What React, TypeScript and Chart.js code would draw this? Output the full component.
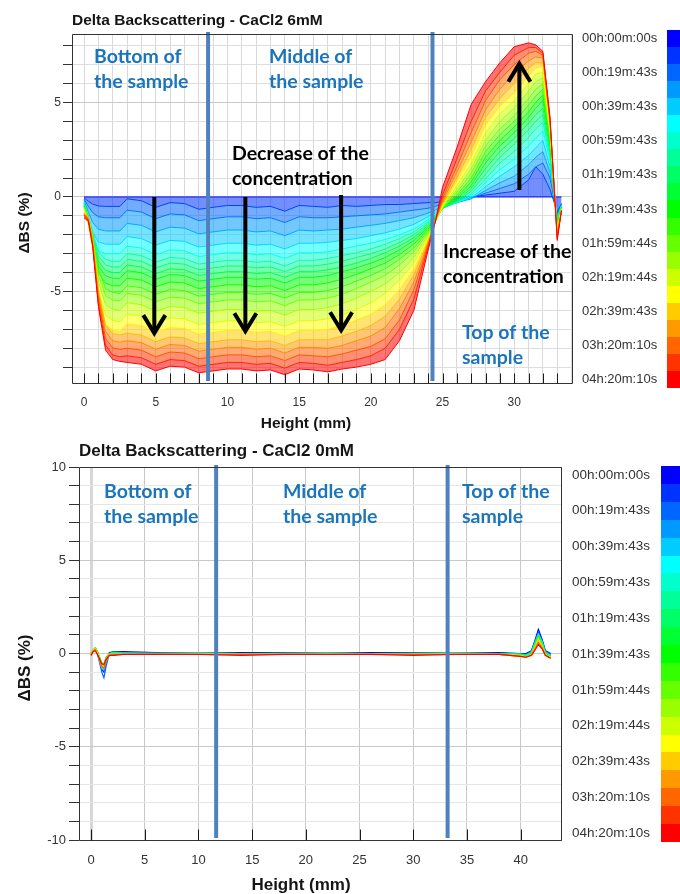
import React, { useEffect, useRef } from 'react';
import { Chart, registerables } from 'chart.js';

Chart.register(...registerables);

// ---------------- data ----------------
const TIME_LABELS = [
  '00h:00m:00s', '00h:19m:43s', '00h:39m:43s', '00h:59m:43s', '01h:19m:43s', '01h:39m:43s',
  '01h:59m:44s', '02h:19m:44s', '02h:39m:43s', '03h:20m:10s', '04h:20m:10s',
];

const SCALE_COLORS = [
  '#0000ff', '#0033ff', '#0066ff', '#0099ff', '#00ccff', '#00ffff', '#00ffcc', '#00ff99', '#00ff66', '#00ff33',
  '#00ff00', '#33ff00', '#66ff00', '#99ff00', '#ccff00', '#ffff00', '#ffcc00', '#ff9900', '#ff6600', '#ff3300', '#ff0000',
];

// CaCl2 6 mM : sample height (mm)
const HEIGHT_6MM = [0, 0.3, 0.6, 1, 1.5, 2, 2.5, 3, 4, 5, 6, 7, 8, 9, 10, 11, 12, 13, 14, 15, 16, 17, 18, 19, 20, 21, 22, 23, 24, 24.5, 25, 26, 27, 28, 29, 30, 31, 31.5, 32, 32.5, 33, 33.3];

// Delta BS (%) for successive scans, blue (first) -> red (last)
const BS6_00 = [0, 0, 0, 0, 0, 0, 0, 0, 0, 0, 0, 0, 0, 0, 0, 0, 0, 0, 0, 0, 0, 0, 0, 0, 0, 0, 0, 0, 0, 0, 0, 0, 0, 0, 0, 0, 0, 0, 0, 0, 0, 0];
const BS6_01 = [-0.05, -0.23, -0.38, -0.48, -0.5, -0.5, -0.5, -0.1, -0.2, -0.55, -0.3, -0.35, -0.65, -0.55, -0.45, -0.45, -0.55, -0.5, -0.75, -0.45, -0.5, -0.55, -0.45, -0.5, -0.45, -0.4, -0.4, -0.35, -0.3, -0.3, -0.25, -0.1, 0, 0.1, 0.2, 0.3, 0.9, 1.6, 1.2, 0.4, -0.8, -0.35];
const BS6_02 = [-0.11, -0.5, -0.83, -1.05, -1.1, -1.1, -1.1, -0.7, -0.8, -1.15, -0.9, -0.95, -1.25, -1.15, -1.05, -1.05, -1.15, -1.1, -1.35, -1.05, -1.1, -1.1, -1.05, -1, -0.95, -0.9, -0.8, -0.7, -0.6, -0.5, -0.35, -0.2, -0.05, 0.2, 0.45, 0.7, 1.2, 1.6, 1.8, 1, -0.9, -0.4];
const BS6_03 = [-0.18, -0.81, -1.35, -1.71, -1.8, -1.8, -1.8, -1.4, -1.5, -1.85, -1.6, -1.65, -1.95, -1.85, -1.75, -1.75, -1.85, -1.8, -2.05, -1.75, -1.8, -1.75, -1.7, -1.6, -1.5, -1.4, -1.25, -1.1, -0.85, -0.7, -0.45, -0.3, -0.1, 0.35, 0.75, 1.1, 1.7, 2.1, 2.4, 1.3, -1, -0.4];
const BS6_04 = [-0.25, -1.13, -1.88, -2.38, -2.5, -2.5, -2.5, -2.1, -2.2, -2.55, -2.3, -2.35, -2.65, -2.55, -2.45, -2.45, -2.55, -2.5, -2.75, -2.45, -2.45, -2.4, -2.3, -2.2, -2.05, -1.9, -1.7, -1.45, -1.05, -0.85, -0.5, -0.3, -0.05, 0.55, 1.1, 1.6, 2.2, 2.6, 3, 1.6, -1.1, -0.45];
const BS6_05 = [-0.3, -1.35, -2.25, -2.85, -3, -3, -3, -2.6, -2.7, -3.05, -2.8, -2.85, -3.15, -3.05, -2.95, -2.95, -3.05, -3, -3.25, -2.95, -2.95, -2.9, -2.75, -2.6, -2.45, -2.25, -2, -1.7, -1.2, -0.95, -0.55, -0.3, 0.05, 0.75, 1.45, 2, 2.7, 3.1, 3.5, 1.9, -1.2, -0.45];
const BS6_06 = [-0.34, -1.02, -1.87, -2.89, -3.3, -3.4, -3.4, -3, -3.1, -3.45, -3.2, -3.25, -3.55, -3.45, -3.35, -3.35, -3.45, -3.4, -3.65, -3.35, -3.35, -3.25, -3.1, -2.95, -2.75, -2.5, -2.2, -1.85, -1.3, -1, -0.6, -0.3, 0.15, 0.95, 1.8, 2.4, 3.15, 3.6, 3.95, 2.1, -1.3, -0.5];
const BS6_07 = [-0.37, -1.11, -2.04, -3.15, -3.59, -3.7, -3.7, -3.3, -3.4, -3.75, -3.5, -3.55, -3.85, -3.75, -3.65, -3.65, -3.75, -3.7, -3.95, -3.65, -3.65, -3.55, -3.4, -3.2, -3, -2.75, -2.4, -2, -1.4, -1.05, -0.6, -0.25, 0.3, 1.2, 2.1, 2.8, 3.55, 4, 4.35, 2.3, -1.35, -0.5];
const BS6_08 = [-0.4, -1.2, -2.2, -3.4, -3.88, -4, -4, -3.6, -3.7, -4.05, -3.8, -3.85, -4.15, -4.05, -3.95, -3.95, -4.05, -4, -4.25, -3.95, -3.95, -3.85, -3.7, -3.5, -3.25, -2.95, -2.6, -2.15, -1.5, -1.1, -0.6, -0.2, 0.45, 1.5, 2.4, 3.1, 3.9, 4.35, 4.7, 2.5, -1.4, -0.5];
const BS6_09 = [-0.43, -1.29, -2.37, -3.66, -4.17, -4.3, -4.3, -3.9, -4, -4.35, -4.1, -4.15, -4.45, -4.35, -4.25, -4.25, -4.35, -4.3, -4.55, -4.25, -4.25, -4.15, -3.95, -3.75, -3.5, -3.2, -2.8, -2.3, -1.6, -1.15, -0.6, -0.1, 0.6, 1.8, 2.7, 3.4, 4.2, 4.7, 5.1, 2.7, -1.45, -0.55];
const BS6_10 = [-0.47, -1.41, -2.59, -4, -4.56, -4.7, -4.7, -4.3, -4.4, -4.75, -4.5, -4.55, -4.85, -4.75, -4.65, -4.65, -4.75, -4.7, -4.95, -4.65, -4.65, -4.55, -4.35, -4.1, -3.8, -3.5, -3.05, -2.5, -1.7, -1.2, -0.6, 0, 0.8, 2.1, 3, 3.7, 4.5, 5, 5.4, 2.9, -1.5, -0.55];
const BS6_11 = [-0.51, -1.02, -1.94, -3.83, -4.85, -5.05, -5.1, -4.7, -4.8, -5.15, -4.9, -4.95, -5.25, -5.15, -5.05, -5.05, -5.15, -5.1, -5.35, -5.05, -5.05, -4.95, -4.75, -4.45, -4.15, -3.8, -3.3, -2.7, -1.8, -1.2, -0.6, 0.1, 1, 2.4, 3.3, 4, 4.85, 5.35, 5.7, 3, -1.6, -0.6];
const BS6_12 = [-0.55, -1.1, -2.09, -4.13, -5.23, -5.45, -5.5, -5.1, -5.2, -5.55, -5.3, -5.35, -5.65, -5.55, -5.45, -5.45, -5.55, -5.5, -5.75, -5.45, -5.45, -5.35, -5.15, -4.85, -4.5, -4.15, -3.6, -2.9, -1.9, -1.25, -0.6, 0.25, 1.25, 2.7, 3.6, 4.3, 5.2, 5.7, 6, 3.2, -1.65, -0.6];
const BS6_13 = [-0.6, -1.2, -2.28, -4.5, -5.7, -5.94, -6, -5.6, -5.7, -6.05, -5.8, -5.85, -6.15, -6.05, -5.95, -5.95, -6.05, -6, -6.25, -5.95, -5.95, -5.85, -5.65, -5.35, -5, -4.6, -4, -3.2, -2, -1.25, -0.55, 0.4, 1.5, 3, 4, 4.7, 5.6, 6.1, 6.3, 3.4, -1.7, -0.6];
const BS6_14 = [-0.66, -1.32, -2.51, -4.95, -6.27, -6.53, -6.6, -6.2, -6.3, -6.65, -6.4, -6.45, -6.75, -6.65, -6.55, -6.55, -6.65, -6.6, -6.85, -6.55, -6.55, -6.45, -6.25, -5.95, -5.6, -5.1, -4.4, -3.5, -2.1, -1.3, -0.5, 0.6, 1.8, 3.4, 4.4, 5.1, 6, 6.5, 6.6, 3.5, -1.8, -0.65];
const BS6_15 = [-0.71, -1.42, -2.7, -5.33, -6.75, -7.03, -7.1, -6.7, -6.8, -7.15, -6.9, -6.95, -7.25, -7.15, -7.05, -7.05, -7.15, -7.1, -7.35, -7.05, -7.05, -7, -6.8, -6.5, -6.2, -5.7, -4.9, -3.8, -2.2, -1.3, -0.45, 0.8, 2.1, 3.8, 4.8, 5.5, 6.4, 6.8, 6.9, 3.7, -1.85, -0.65];
const BS6_16 = [-0.84, -1.06, -2.2, -4.86, -6.76, -7.22, -7.3, -7.2, -7.3, -7.65, -7.4, -7.45, -7.75, -7.65, -7.55, -7.55, -7.65, -7.6, -7.85, -7.55, -7.55, -7.55, -7.35, -7.1, -6.8, -6.3, -5.4, -4.1, -2.3, -1.3, -0.35, 1, 2.5, 4.2, 5.2, 6, 6.8, 7.1, 7.1, 3.8, -1.9, -0.7];
const BS6_17 = [-0.88, -1.12, -2.32, -5.12, -7.12, -7.6, -7.68, -7.6, -7.7, -8.05, -7.8, -7.85, -8.15, -8.05, -7.95, -7.95, -8.05, -8, -8.25, -7.95, -7.95, -8, -7.85, -7.6, -7.35, -6.9, -5.9, -4.5, -2.4, -1.3, -0.25, 1.3, 2.9, 4.6, 5.7, 6.5, 7.2, 7.4, 7.35, 3.9, -2, -0.7];
const BS6_18 = [-0.92, -1.18, -2.44, -5.38, -7.48, -7.98, -8.06, -8, -8.1, -8.45, -8.2, -8.25, -8.55, -8.45, -8.35, -8.35, -8.45, -8.4, -8.65, -8.35, -8.4, -8.45, -8.3, -8.1, -7.9, -7.5, -6.5, -4.9, -2.5, -1.3, -0.1, 1.6, 3.4, 5.1, 6.2, 7, 7.6, 7.7, 7.5, 4, -2.1, -0.7];
const BS6_19 = [-0.97, -1.23, -2.55, -5.63, -7.83, -8.36, -8.45, -8.4, -8.5, -8.85, -8.6, -8.65, -8.95, -8.85, -8.75, -8.75, -8.85, -8.8, -9.05, -8.75, -8.8, -8.9, -8.75, -8.6, -8.4, -8, -7, -5.4, -2.6, -1.3, 0.1, 2, 4, 5.6, 6.6, 7.5, 7.9, 7.9, 7.6, 4.1, -2.2, -0.7];
const BS6_20 = [-1.1, -1.3, -2.6, -5.8, -8.1, -8.6, -8.7, -8.75, -8.85, -9.2, -8.95, -9, -9.3, -9.2, -9.1, -9.1, -9.2, -9.15, -9.4, -9.1, -9.15, -9.25, -9.1, -9, -8.85, -8.6, -7.6, -6, -2.8, -1.3, 0.5, 2.6, 4.9, 6.1, 7.1, 7.95, 8.15, 8.05, 7.7, 4.2, -2.3, -0.7];

const CURVES_6MM = [
  BS6_00, BS6_01, BS6_02, BS6_03, BS6_04, BS6_05, BS6_06, BS6_07, BS6_08, BS6_09, BS6_10,
  BS6_11, BS6_12, BS6_13, BS6_14, BS6_15, BS6_16, BS6_17, BS6_18, BS6_19, BS6_20,
];

// CaCl2 0 mM : sample height (mm)
const HEIGHT_0MM = [0, 0.2, 0.4, 0.6, 0.8, 1, 1.2, 1.4, 1.7, 2.2, 3, 6, 10, 14, 18, 22, 26, 30, 34, 38, 40, 40.5, 41, 41.3, 41.65, 42, 42.3, 42.8];

const BS0_00 = [0, 0.15, 0.25, 0.05, -0.4, -0.85, -1, -0.5, 0.05, 0.1, 0.1, 0.05, 0.05, 0.05, 0.05, 0.05, 0.05, 0.05, 0.05, 0.05, 0, 0, 0.15, 0.65, 1.29, 0.75, 0.15, 0];
const BS0_02 = [0, 0.15, 0.25, 0, -0.5, -1, -1.3, -0.7, 0, 0.1, 0.05, 0.05, 0.05, 0, 0.05, 0.05, 0, 0.05, 0.05, 0, 0, -0.05, 0.1, 0.6, 1.15, 0.7, 0.1, -0.05];
const BS0_04 = [0, 0.15, 0.25, 0, -0.4, -0.8, -0.9, -0.45, 0, 0.05, 0.05, 0, 0.05, 0, 0, 0.05, 0, 0, 0.05, 0, -0.05, -0.1, 0.05, 0.55, 1.05, 0.65, 0.05, -0.1];
const BS0_06 = [0, 0.2, 0.3, 0.05, -0.3, -0.6, -0.7, -0.3, 0, 0.05, 0, 0, 0, 0, 0, 0, 0, 0, 0, 0, -0.05, -0.1, 0.05, 0.5, 1, 0.6, 0.05, -0.1];
const BS0_08 = [0, 0.2, 0.3, 0.1, -0.25, -0.55, -0.6, -0.25, 0, 0, 0, 0, 0, 0, 0, 0, 0, 0, 0, 0, -0.05, -0.1, 0, 0.45, 0.95, 0.55, 0, -0.15];
const BS0_10 = [0, 0.2, 0.3, 0.1, -0.2, -0.5, -0.55, -0.2, 0, 0, 0, 0, 0, 0, 0, 0, 0, 0, 0, 0, -0.1, -0.15, 0, 0.4, 0.9, 0.5, 0, -0.15];
const BS0_12 = [-0.05, 0.2, 0.3, 0.05, -0.25, -0.55, -0.6, -0.25, -0.05, -0.05, 0, -0.05, 0, -0.05, 0, -0.05, 0, -0.05, 0, -0.05, -0.1, -0.15, -0.05, 0.35, 0.85, 0.45, -0.05, -0.2];
const BS0_14 = [-0.05, 0.2, 0.25, 0, -0.3, -0.6, -0.65, -0.3, -0.05, -0.05, -0.05, -0.05, 0, -0.05, -0.05, 0, -0.05, -0.05, 0, -0.05, -0.1, -0.2, -0.05, 0.3, 0.8, 0.4, -0.05, -0.2];
const BS0_16 = [-0.05, 0.2, 0.25, 0, -0.35, -0.7, -0.75, -0.35, -0.05, -0.05, -0.05, -0.05, -0.05, -0.05, -0.05, -0.05, -0.05, -0.05, -0.05, -0.05, -0.15, -0.2, -0.1, 0.25, 0.7, 0.35, -0.1, -0.25];
const BS0_18 = [-0.1, 0.15, 0.2, -0.05, -0.35, -0.7, -0.8, -0.4, -0.1, -0.05, -0.05, -0.05, -0.05, -0.05, -0.05, -0.05, -0.05, -0.05, -0.05, -0.05, -0.15, -0.2, -0.1, 0.2, 0.6, 0.3, -0.1, -0.25];
const BS0_20 = [-0.1, 0.1, 0.15, -0.05, -0.3, -0.55, -0.6, -0.3, -0.1, -0.1, -0.05, -0.05, -0.05, -0.1, -0.05, -0.05, -0.05, -0.1, -0.05, -0.05, -0.15, -0.2, -0.1, 0.15, 0.48, 0.25, -0.1, -0.25];

const CURVES_0MM = [BS0_00, BS0_02, BS0_04, BS0_06, BS0_08, BS0_10, BS0_12, BS0_14, BS0_16, BS0_18, BS0_20];
const COLOR_INDEX_0MM = [0, 2, 4, 6, 8, 10, 12, 14, 16, 18, 20];

// zone dividers (mm) and arrows (mm, %)
const DIVIDERS_6MM = [8.65, 24.3];
const DIVIDERS_0MM = [11.65, 33.2];
const ARROWS_6MM = [
  { x: 4.9, from: 0, to: -7.2 },
  { x: 11.25, from: 0, to: -7.1 },
  { x: 17.93, from: 0.1, to: -7.05 },
  { x: 30.36, from: 0.37, to: 7.05 },
];

// ---------------- helpers ----------------
function rgba(hex: string, a: number) {
  const n = parseInt(hex.slice(1), 16);
  return `rgba(${(n >> 16) & 255},${(n >> 8) & 255},${n & 255},${a})`;
}

const DIVIDER_COLOR = '#4f81bd';
const NOTE_BLUE = '#1b75bc';
const AXIS_DARK = '#333333';

type Note = { lines: string[]; x: number; y: number; color: string; size: number };
type Decor = {
  title: string; titleX: number; titleY: number; titleSize: number;
  xTitleX: number; xTitleY: number; yTitleX: number; yTitleY: number; axisTitleSize: number;
  inner: { from: number; to: number; step: number; len: number };
  dividers: number[];
  arrows: { x: number; from: number; to: number }[];
  notes: Note[];
  bar: { x: number; w: number; top: number; bottom: number };
  legendX: number; legendSize: number;
};

function makeDecor(d: Decor) {
  return {
    id: 'decor',
    afterDatasetsDraw(chart: any) {
      const { ctx, chartArea: a, scales } = chart;
      const xs = scales.x;
      const ys = scales.y;
      ctx.save();
      ctx.strokeStyle = DIVIDER_COLOR;
      ctx.lineWidth = 4;
      for (const v of d.dividers) {
        const px = xs.getPixelForValue(v);
        ctx.beginPath();
        ctx.moveTo(px, a.top - 2);
        ctx.lineTo(px, a.bottom - 2);
        ctx.stroke();
      }
      ctx.strokeStyle = '#000';
      ctx.lineWidth = 4;
      ctx.lineJoin = 'miter';
      ctx.lineCap = 'butt';
      for (const ar of d.arrows) {
        const px = xs.getPixelForValue(ar.x);
        const p0 = ys.getPixelForValue(ar.from);
        const p1 = ys.getPixelForValue(ar.to);
        const dir = p1 > p0 ? 1 : -1;
        ctx.beginPath();
        ctx.moveTo(px, p0);
        ctx.lineTo(px, p1 - dir * 2);
        ctx.stroke();
        ctx.beginPath();
        ctx.moveTo(px - 11, p1 - dir * 18);
        ctx.lineTo(px, p1);
        ctx.lineTo(px + 11, p1 - dir * 18);
        ctx.stroke();
      }
      ctx.textAlign = 'left';
      ctx.textBaseline = 'alphabetic';
      for (const n of d.notes) {
        ctx.font = `bold ${n.size}px Lato`;
        ctx.fillStyle = n.color;
        n.lines.forEach((t, i) => ctx.fillText(t, n.x, n.y + i * 25));
      }
      ctx.restore();
    },
    afterDraw(chart: any) {
      const { ctx, chartArea: a, scales } = chart;
      const xs = scales.x;
      ctx.save();
      // frame
      ctx.strokeStyle = AXIS_DARK;
      ctx.lineWidth = 1;
      const L = Math.round(a.left) + 0.5;
      const R = Math.round(a.right) - 0.5;
      const T = Math.round(a.top) + 0.5;
      const B = Math.round(a.bottom) + 0.5;
      ctx.beginPath();
      ctx.moveTo(L, T); ctx.lineTo(R, T); ctx.lineTo(R, B); ctx.lineTo(L, B); ctx.closePath();
      ctx.stroke();
      // inner ticks on the x axis
      ctx.strokeStyle = '#1a1a1a';
      for (let v = d.inner.from; v <= d.inner.to + 1e-9; v += d.inner.step) {
        const px = Math.round(xs.getPixelForValue(v)) + 0.5;
        ctx.beginPath();
        ctx.moveTo(px, B);
        ctx.lineTo(px, B - d.inner.len);
        ctx.stroke();
      }
      // titles
      ctx.fillStyle = '#151515';
      ctx.font = `bold ${d.titleSize}px "Liberation Sans"`;
      ctx.textAlign = 'left';
      ctx.textBaseline = 'middle';
      ctx.fillText(d.title, d.titleX, d.titleY);
      ctx.font = `bold ${d.axisTitleSize}px "Liberation Sans"`;
      ctx.textAlign = 'center';
      ctx.fillText('Height (mm)', d.xTitleX, d.xTitleY);
      ctx.save();
      ctx.translate(d.yTitleX, d.yTitleY);
      ctx.rotate(-Math.PI / 2);
      ctx.fillText('\u0394BS (%)', 0, 0);
      ctx.restore();
      // colour bar + time legend
      const n = SCALE_COLORS.length;
      const seg = (d.bar.bottom - d.bar.top) / n;
      SCALE_COLORS.forEach((c, i) => {
        const y0 = Math.round(d.bar.top + i * seg);
        const y1 = Math.round(d.bar.top + (i + 1) * seg);
        ctx.fillStyle = c;
        ctx.fillRect(d.bar.x, y0, d.bar.w, y1 - y0);
      });
      ctx.fillStyle = AXIS_DARK;
      ctx.font = `${d.legendSize}px "Liberation Sans"`;
      ctx.textAlign = 'left';
      ctx.textBaseline = 'middle';
      TIME_LABELS.forEach((t, i) => {
        ctx.fillText(t, d.legendX, d.bar.top + (2 * i + 0.5) * seg);
      });
      ctx.restore();
    },
  };
}

function isFive(v: number) {
  return Math.abs(v % 5) < 1e-6;
}

function config6mM(): any {
  const datasets = CURVES_6MM.map((vals, k) => ({
    label: `scan ${k}`,
    data: vals.map((y, i) => ({ x: HEIGHT_6MM[i], y })),
    borderColor: SCALE_COLORS[k],
    backgroundColor: rgba(SCALE_COLORS[k], 0.55),
    borderWidth: 1,
    pointRadius: 0,
    tension: 0,
    fill: k === 0 ? false : '-1',
    order: CURVES_6MM.length - 1 - k,
  }));
  const decor: Decor = {
    title: 'Delta Backscattering - CaCl2 6mM', titleX: 72, titleY: 20.5, titleSize: 15.5,
    xTitleX: 306, xTitleY: 424, yTitleX: 25, yTitleY: 223, axisTitleSize: 15.5,
    inner: { from: 0, to: 33, step: 1, len: 10 },
    dividers: DIVIDERS_6MM,
    arrows: ARROWS_6MM,
    notes: [
      { lines: ['Bottom of', 'the sample'], x: 94, y: 63, color: NOTE_BLUE, size: 19.5 },
      { lines: ['Middle of', 'the sample'], x: 269, y: 63, color: NOTE_BLUE, size: 19.5 },
      { lines: ['Decrease of the', 'concentration'], x: 232, y: 160, color: '#000', size: 19.5 },
      { lines: ['Increase of the', 'concentration'], x: 443, y: 258, color: '#000', size: 19.5 },
      { lines: ['Top of the', 'sample'], x: 462, y: 339, color: NOTE_BLUE, size: 19.5 },
    ],
    bar: { x: 667, w: 13, top: 30, bottom: 388 },
    legendX: 582, legendSize: 13,
  };
  return {
    type: 'line',
    data: { datasets },
    options: {
      responsive: false,
      animation: false,
      events: [],
      layout: { padding: { left: 0, top: 34, right: 107, bottom: 0 } },
      plugins: { legend: { display: false }, tooltip: { enabled: false }, title: { display: false } },
      scales: {
        x: {
          type: 'linear', min: -0.84, max: 34.1,
          afterFit: (s: any) => { s.height = 57; },
          border: { display: false },
          grid: { color: '#d9d9d9', drawTicks: false, lineWidth: 1 },
          ticks: {
            stepSize: 1, includeBounds: false, autoSkip: false, maxRotation: 0, padding: 12,
            color: AXIS_DARK, font: { family: 'Liberation Sans', size: 12 },
            callback: (v: number) => (isFive(v) ? String(v) : ''),
          },
        },
        y: {
          type: 'linear', min: -9.84, max: 8.62,
          afterFit: (s: any) => { s.width = 72; },
          border: { display: false },
          grid: {
            color: (c: any) => (c.tick && isFive(c.tick.value) ? '#c9c9c9' : '#dedede'),
            tickColor: AXIS_DARK, tickLength: 9, drawTicks: true,
          },
          ticks: {
            stepSize: 1, includeBounds: false, autoSkip: false, padding: 2,
            color: AXIS_DARK, font: { family: 'Liberation Sans', size: 12 },
            callback: (v: number) => (isFive(v) ? String(v) : ''),
          },
        },
      },
    },
    plugins: [makeDecor(decor)],
  };
}

function config0mM(): any {
  const datasets = CURVES_0MM.map((vals, j) => ({
    label: `scan ${COLOR_INDEX_0MM[j]}`,
    data: vals.map((y, i) => ({ x: HEIGHT_0MM[i], y })),
    borderColor: SCALE_COLORS[COLOR_INDEX_0MM[j]],
    borderWidth: 1.2,
    pointRadius: 0,
    tension: 0,
    fill: false,
    order: CURVES_0MM.length - 1 - j,
  }));
  const decor: Decor = {
    title: 'Delta Backscattering - CaCl2 0mM', titleX: 79, titleY: 11, titleSize: 17,
    xTitleX: 301, xTitleY: 445, yTitleX: 25, yTitleY: 228, axisTitleSize: 17,
    inner: { from: 0, to: 40, step: 5, len: 11 },
    dividers: DIVIDERS_0MM,
    arrows: [],
    notes: [
      { lines: ['Bottom of', 'the sample'], x: 104, y: 58, color: NOTE_BLUE, size: 19.5 },
      { lines: ['Middle of', 'the sample'], x: 283, y: 58, color: NOTE_BLUE, size: 19.5 },
      { lines: ['Top of the', 'sample'], x: 462, y: 58, color: NOTE_BLUE, size: 19.5 },
    ],
    bar: { x: 661, w: 19, top: 26, bottom: 402 },
    legendX: 572, legendSize: 13.5,
  };
  return {
    type: 'line',
    data: { datasets },
    options: {
      responsive: false,
      animation: false,
      events: [],
      layout: { padding: { left: 0, top: 27, right: 118, bottom: 0 } },
      plugins: { legend: { display: false }, tooltip: { enabled: false }, title: { display: false } },
      scales: {
        x: {
          type: 'linear', min: -1.12, max: 43.85,
          afterFit: (s: any) => { s.height = 54; },
          border: { display: false },
          grid: {
            color: (c: any) => (c.tick && c.tick.value === 0 ? '#d6d6d6' : '#c8c8c8'),
            lineWidth: (c: any) => (c.tick && c.tick.value === 0 ? 3 : 1),
            drawTicks: false,
          },
          ticks: {
            stepSize: 5, includeBounds: false, autoSkip: false, maxRotation: 0, padding: 13,
            color: AXIS_DARK, font: { family: 'Liberation Sans', size: 13 },
          },
        },
        y: {
          type: 'linear', min: -10, max: 10,
          afterFit: (s: any) => { s.width = 79; },
          border: { display: false },
          grid: {
            color: (c: any) => (c.tick && isFive(c.tick.value) ? '#c8c8c8' : '#e6e6e6'),
            tickColor: AXIS_DARK, tickLength: 10, drawTicks: true,
          },
          ticks: {
            stepSize: 1, includeBounds: false, autoSkip: false, padding: 3,
            color: AXIS_DARK, font: { family: 'Liberation Sans', size: 13 },
            callback: (v: number) => (isFive(v) ? String(v) : ''),
          },
        },
      },
    },
    plugins: [makeDecor(decor)],
  };
}

export default function App() {
  const ref1 = useRef<HTMLCanvasElement>(null);
  const ref2 = useRef<HTMLCanvasElement>(null);
  useEffect(() => {
    const c1 = new Chart(ref1.current as HTMLCanvasElement, config6mM());
    const c2 = new Chart(ref2.current as HTMLCanvasElement, config0mM());
    return () => {
      c1.destroy();
      c2.destroy();
    };
  }, []);
  return (
    <div style={{ position: 'absolute', left: 0, top: 0, width: 680, height: 894, background: '#ffffff', overflow: 'hidden' }}>
      <canvas ref={ref1} width={680} height={440} style={{ position: 'absolute', left: 0, top: 0, width: 680, height: 440 }} />
      <canvas ref={ref2} width={680} height={454} style={{ position: 'absolute', left: 0, top: 440, width: 680, height: 454 }} />
    </div>
  );
}
